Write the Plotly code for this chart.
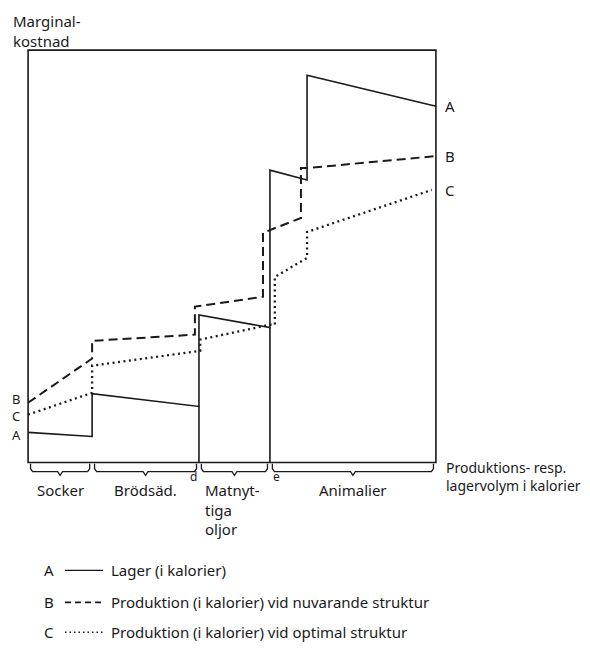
import plotly.graph_objects as go

# ---------------- data (schematic units: volume 0-100, marginal cost 0-100) -------------
cat_labels = ["Socker", "Brödsäd.", "Matnyt-<br>tiga<br>oljor", "Animalier"]
cat_bounds = [0, 15.7, 41.9, 59.3, 100]

a_x = [0, 15.7, 15.7, 41.9, 41.9, 59.3, 59.3, 68.4, 68.4, 100]
a_y = [7.3, 6.3, 16.7, 13.6, 35.8, 32.7, 70.9, 68.5, 93.9, 86.4]

b_x = [0, 15.7, 15.7, 40.9, 40.9, 57.6, 57.6, 66.9, 66.9, 68.4, 100]
b_y = [14.5, 25.2, 29.5, 31.0, 37.8, 40.2, 55.7, 59.3, 71.4, 71.4, 74.3]

c_x = [0, 15.7, 15.7, 42.2, 42.2, 59.3, 60.5, 60.5, 68.4, 68.4, 99]
c_y = [11.6, 16.9, 23.5, 27.1, 29.8, 33.4, 33.4, 45.0, 49.6, 55.9, 66.1]

divider_x = [41.9, 59.3]
divider_top = [13.6, 32.7]
divider_marks = ["d", "e"]

series_letters = ["A", "B", "C"]
series_names = ["Lager (i kalorier)",
                "Produktion (i kalorier) vid nuvarande struktur",
                "Produktion (i kalorier) vid optimal struktur"]

# ---------------- layout constants ----------------
OFF = 8                      # page body margin of the html page
W, H = 574, 636
ML, MR, MT, MB = 16, 142, 38, 164.5
PW, PH = W - ML - MR, H - MT - MB
INK = "#1a1a1a"
FONT = "'Noto Sans', Lato, sans-serif"
FS = 15


def px(xp):
    """screen pixel x -> paper fraction"""
    return (xp - OFF - ML) / PW


def py(yp):
    """screen pixel y -> paper fraction"""
    return (H - MB - (yp - OFF)) / PH


fig = go.Figure()

styles = [dict(width=1.6, dash="solid"),
          dict(width=2, dash="9px,5px"),
          dict(width=2.3, dash="2px,3.5px")]
for i, (xs, ys) in enumerate([(a_x, a_y), (b_x, b_y), (c_x, c_y)]):
    fig.add_trace(go.Scatter(
        x=xs, y=ys, mode="lines", name=series_names[i],
        line=dict(color=INK, **styles[i]), hoverinfo="skip"))

# dividers d, e (down to the volume axis)
for dx, dt in zip(divider_x, divider_top):
    fig.add_trace(go.Scatter(x=[dx, dx], y=[0, dt], mode="lines",
                             line=dict(color=INK, width=1.6), hoverinfo="skip"))

# braces under each category
gap = 0.6
for i in range(len(cat_labels)):
    x0, x1 = cat_bounds[i] + gap, cat_bounds[i + 1] - gap
    xm = (x0 + x1) / 2
    bx = [x0, x0, x0 + 0.5, xm - 0.6, xm, xm + 0.6, x1 - 0.5, x1, x1]
    by = [-0.3, -1.5, -2.2, -2.2, -3.1, -2.2, -2.2, -1.5, -0.3]
    fig.add_trace(go.Scatter(x=bx, y=by, mode="lines",
                             line=dict(color=INK, width=1.3), hoverinfo="skip"))

shapes = [dict(type="rect", xref="x", yref="y", x0=0, x1=100, y0=0, y1=100,
               line=dict(color=INK, width=1.6))]

ann = []
# axis titles
ann.append(dict(xref="paper", yref="paper", x=px(11), y=py(31), xanchor="left",
                yanchor="middle", align="left", text="Marginal-<br>kostnad",
                showarrow=False))
ann.append(dict(xref="paper", yref="paper", x=px(444), y=py(477), xanchor="left",
                yanchor="middle", align="left",
                text="Produktions- resp.<br>lagervolym i kalorier",
                showarrow=False, font=dict(size=14)))
# curve letters at both ends
left_shift = [-3, 4, -1]
for letter, xs, ys, ys_shift in zip(series_letters, [a_x, b_x, c_x], [a_y, b_y, c_y], left_shift):
    ann.append(dict(xref="x", yref="y", x=100, y=ys[-1], xshift=14, text=letter,
                    showarrow=False))
    ann.append(dict(xref="x", yref="y", x=0, y=ys[0], xshift=-12, yshift=ys_shift,
                    text=letter, showarrow=False, font=dict(size=13),
                    borderpad=0, borderwidth=0))
# category labels
for i, lab in enumerate(cat_labels):
    if "<br>" in lab:
        ann.append(dict(xref="x", yref="paper", x=cat_bounds[i], xshift=4, y=py(478),
                        xanchor="left", yanchor="top", align="left", text=lab,
                        showarrow=False))
    else:
        ann.append(dict(xref="x", yref="paper", x=(cat_bounds[i] + cat_bounds[i + 1]) / 2,
                        y=py(478), xanchor="center", yanchor="top", text=lab,
                        showarrow=False))
# d / e marks
for dx, m, side in zip(divider_x, divider_marks, ["right", "left"]):
    ann.append(dict(xref="x", yref="paper", x=dx, xshift=(0 if side == "right" else 1),
                    y=py(477), xanchor=side, yanchor="middle", text=m,
                    showarrow=False, font=dict(size=12)))

# manual key below the chart
key_y = [571, 603, 633]
key_dash = ["solid", "6px,4px", "1.5px,3px"]
key_w = [1.4, 1.6, 1.4]
for i in range(3):
    ann.append(dict(xref="paper", yref="paper", x=px(49), y=py(key_y[i]),
                    xanchor="center", yanchor="middle", text=series_letters[i],
                    showarrow=False, borderpad=0, borderwidth=0))
    shapes.append(dict(type="line", xref="paper", yref="paper",
                       x0=px(65), x1=px(103), y0=py(key_y[i]), y1=py(key_y[i]),
                       line=dict(color=INK, width=key_w[i], dash=key_dash[i])))
    ann.append(dict(xref="paper", yref="paper", x=px(111), y=py(key_y[i]),
                    xanchor="left", yanchor="middle", text=series_names[i],
                    showarrow=False, borderpad=0, borderwidth=0))

fig.update_layout(
    width=W, height=H,
    margin=dict(l=ML, r=MR, t=MT, b=MB, autoexpand=False),
    paper_bgcolor="white", plot_bgcolor="white",
    font=dict(family=FONT, color=INK, size=FS),
    xaxis=dict(range=[-1, 101], visible=False, fixedrange=True),
    yaxis=dict(range=[-4, 101], visible=False, fixedrange=True),
    shapes=shapes, annotations=ann,
    showlegend=False,
)

fig.write_html("out.html")
